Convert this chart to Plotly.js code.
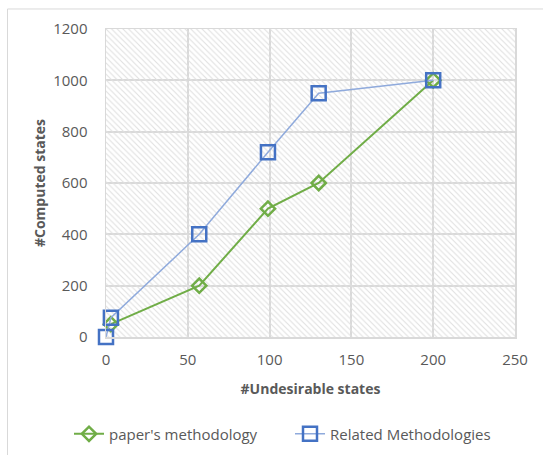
<!DOCTYPE html>
<html>
<head>
<meta charset="utf-8">
<script src="https://cdn.plot.ly/plotly-3.0.1.min.js"></script>
<style>html,body{margin:0;padding:0;background:#fff;}#chart{width:543px;height:455px;}</style>
</head>
<body>
<div id="chart"></div>
<script>
// Data
const paperX = [3, 57, 99, 130, 200];
const paperY = [50, 200, 500, 600, 1000];
const relatedX = [0, 3, 57, 99, 130, 200];
const relatedY = [0, 75, 400, 720, 950, 1000];
const seriesNames = ["paper's methodology", "Related Methodologies"];
const xTicks = [0, 50, 100, 150, 200, 250];
const yTicks = [0, 200, 400, 600, 800, 1000, 1200];

const xRange = [0, 250];
const yRange = [0, 1200];
const font = 'Open Sans, Noto Sans, sans-serif';
const gray = '#595959';

const bg = {
  x: [xRange[0], xRange[1], xRange[1], xRange[0], xRange[0]],
  y: [yRange[0], yRange[0], yRange[1], yRange[1], yRange[0]],
  mode: 'lines', fill: 'toself', line: {width: 0, color: 'rgba(0,0,0,0)'},
  fillcolor: 'rgba(0,0,0,0)',
  fillpattern: {shape: '\\', fgcolor: '#e0e0e0', bgcolor: 'rgba(0,0,0,0)', size: 4, solidity: 0.28},
  hoverinfo: 'skip', showlegend: false
};

const paper = {
  x: paperX, y: paperY, name: seriesNames[0], mode: 'lines+markers', cliponaxis: false,
  legend: 'legend',
  line: {color: '#70ad47', width: 2},
  marker: {symbol: 'diamond-open', size: 11, color: '#70ad47', line: {width: 2.5, color: '#70ad47'}}
};
const related = {
  x: relatedX, y: relatedY, name: seriesNames[1], mode: 'lines+markers', cliponaxis: false,
  legend: 'legend2',
  line: {color: '#8faadc', width: 1.5},
  marker: {symbol: 'square-open', size: 14, color: '#4472c4', line: {width: 2.5, color: '#4472c4'}}
};

const legendBase = {orientation: 'h', xref: 'container', yref: 'container', y: 0.046,
  xanchor: 'left', yanchor: 'middle', font: {size: 15, color: gray}, itemwidth: 30,
  bgcolor: 'rgba(0,0,0,0)'};

const layout = {
  width: 543, height: 455,
  margin: {l: 106, r: 28, t: 29, b: 118},
  paper_bgcolor: '#fff', plot_bgcolor: '#fff',
  font: {family: font, color: gray, size: 14},
  showlegend: true,
  legend: Object.assign({}, legendBase, {x: 69 / 543}),
  legend2: Object.assign({}, legendBase, {x: 290 / 543}),
  xaxis: {range: xRange, tickvals: xTicks, ticktext: xTicks.map(String), showgrid: true,
    gridcolor: '#d9d9d9', gridwidth: 2, zeroline: false, showline: true, linecolor: '#d9d9d9', linewidth: 1.5,
    mirror: true, ticks: 'outside', ticklen: 8, tickcolor: 'rgba(0,0,0,0)',
    tickfont: {size: 15, color: gray},
    title: {text: '#Undesirable states', font: {size: 14, color: gray, weight: 'bold'}, standoff: 16}},
  yaxis: {range: yRange, tickvals: yTicks, ticktext: yTicks.map(String), showgrid: true,
    gridcolor: '#d9d9d9', gridwidth: 2, zeroline: false, showline: true, linecolor: '#d9d9d9', linewidth: 1.5,
    mirror: true, ticks: 'outside', ticklen: 14, tickcolor: 'rgba(0,0,0,0)',
    tickfont: {size: 15, color: gray},
    title: {text: '#Computed states', font: {size: 14, color: gray, weight: 'bold'}, standoff: 4}},
  shapes: [{type: 'rect', xref: 'paper', yref: 'paper', x0: -0.2408, x1: 1.3, y0: -0.6, y1: 1.065,
    line: {color: '#d9d9d9', width: 1}, fillcolor: 'rgba(0,0,0,0)', layer: 'below'}]
};

Plotly.newPlot('chart', [bg, paper, related], layout, {displayModeBar: false, staticPlot: true});
</script>
</body>
</html>
